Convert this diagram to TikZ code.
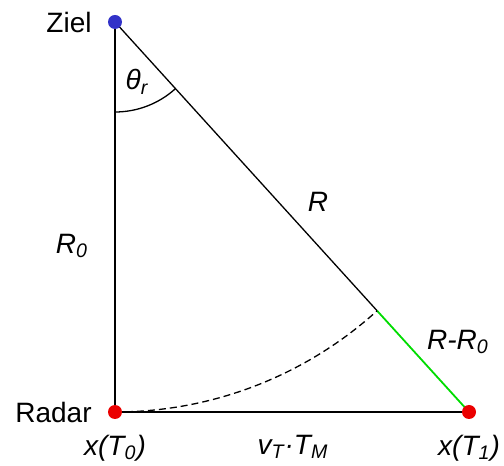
\documentclass[tikz,border=0pt]{standalone}
\usepackage{fontspec}
\setmainfont{Liberation Sans}
\definecolor{dotred}{RGB}{235,0,0}
\definecolor{dotblue}{RGB}{50,50,200}
\definecolor{segreen}{RGB}{0,220,0}
\tikzset{
  lbl/.style={inner sep=0pt,font=\fontsize{14}{16}\selectfont\itshape},
  plain/.style={inner sep=0pt,font=\fontsize{14}{16}\selectfont},
}
\begin{document}
\begin{tikzpicture}[x=.5pt,y=.5pt,line width=.65pt]
  \useasboundingbox (0,0) rectangle (504,466);
  \coordinate (ziel) at (115,444);
  \coordinate (radar) at (115,54);
  \coordinate (t1) at (469,54);
  \path (ziel) ++(-47.77:390) coordinate (cut);
  \path (ziel) ++(-90:90) coordinate (a0);
  % triangle
  \draw (ziel)--(radar);
  \draw (radar)--(t1);
  \draw (ziel)--(cut);
  \draw[segreen,line width=.9pt] (cut)--(t1);
  \draw[dash pattern=on 3.5pt off 2pt] (radar) arc[start angle=-90,end angle=-47.77,radius=390];
  \draw (a0) arc[start angle=-90,end angle=-47.77,radius=90];
  % dots
  \fill[dotblue] (ziel) circle (7);
  \fill[dotred] (radar) circle (7);
  \fill[dotred] (t1) circle (7);
  % labels
  \node[plain] (zlab) at (69,444) {Ziel};
  \node[plain] (rlab) at (53.5,54) {Radar};
  \node[lbl] (theta) at (137,384) {θ\textsubscript{r}};
  \node[lbl] (r0) at (72,220) {R\textsubscript{0}};
  \node[lbl] (r) at (318,264) {R};
  \node[lbl] (dr) at (458,124) {R-R\textsubscript{0}};
  \node[lbl] (x0) at (115,18) {x(T\textsubscript{0})};
  \node[lbl] (vt) at (293,19) {v\textsubscript{T}·T\textsubscript{M}};
  \node[lbl] (x1) at (469,18) {x(T\textsubscript{1})};
\end{tikzpicture}
\end{document}
